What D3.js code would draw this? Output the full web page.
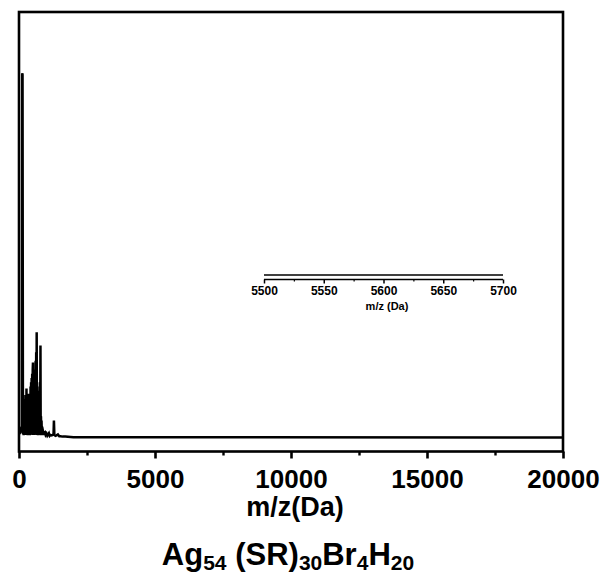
<!DOCTYPE html>
<html>
<head>
<meta charset="utf-8">
<script src="https://cdn.jsdelivr.net/npm/d3@7"></script>
<style>
  html, body { margin: 0; padding: 0; background: #fff; }
  svg { display: block; font-family: "Liberation Sans", Arial, sans-serif; font-weight: bold; }
</style>
</head>
<body>
<svg id="chart" width="608" height="576"></svg>
<script>
// Mass spectrum: m/z (Da) and relative intensity
const mzValues = [0, 50, 90, 105, 118, 130, 145, 150, 160, 170, 180, 190, 200, 210, 220, 230, 240, 250, 260, 270,
  275, 280, 290, 300, 310, 320, 330, 340, 350, 360, 367, 375, 385, 395, 405, 415, 425, 435, 445, 455,
  465, 475, 485, 495, 505, 514, 522, 532, 542, 552, 562, 572, 582, 592, 602, 612, 622, 632, 642, 650,
  658, 668, 678, 688, 698, 708, 718, 728, 738, 748, 758, 768, 778, 789, 798, 808, 818, 828, 840, 850,
  880, 900, 920, 954, 980, 1010, 1040, 1070, 1100, 1130, 1160, 1200, 1240, 1270, 1284, 1300, 1340, 1380, 1431, 1480,
  1530, 1600, 1700, 1800, 1900, 2000, 20000];
const intensities = [0.8, 1.2, 2.5, 2, 85.6, 85.3, 1, 0.8, 6, 0.5, 7, 0.8, 8, 0.6, 9, 1, 10, 0.7, 9, 0.9,
  11.5, 0.6, 10, 0.8, 9, 0.5, 8, 1, 9, 0.6, 10.3, 0.8, 9, 0.5, 10, 1.2, 12, 0.7, 13, 0.9,
  14, 1, 15, 0.6, 16, 17.6, 0.8, 14, 1.1, 13, 0.6, 14, 1, 16, 0.7, 18, 1.2, 20, 0.8, 24.7,
  0.6, 12, 0.9, 10, 0.5, 11, 1, 9, 0.6, 10, 0.8, 13, 0.7, 21.6, 0.5, 5, 0.6, 4, 0.5, 2.5,
  1.5, 0.6, 1, 1.2, 0.6, 0.9, 0.4, 0.7, 1, 0.4, 0.6, 0.5, 0.6, 0.8, 4, 0.6, 0.4, 0.5, 0.7, 0.3,
  0.3, 0.2, 0.2, 0.15, 0.1, 0.05, 0];

const mainTicks = [0, 5000, 10000, 15000, 20000];
const mainMinorTicks = [2500, 7500, 12500, 17500];

// Zoomed window around 5500–5700 Da
const insetMz = [5500, 5700];
const insetIntensity = [0, 0];
const insetTicks = [5500, 5550, 5600, 5650, 5700];
const insetMinorTicks = [5525, 5575, 5625, 5675];

const xTitle = "m/z(Da)";
const insetTitle = "m/z (Da)";

const svg = d3.select("#chart");
const plotLeft = 19, plotRight = 563, plotTop = 12, plotBottom = 451.5;

const x = d3.scaleLinear().domain([0, 20000]).range([plotLeft, plotRight]);
const y = d3.scaleLinear().domain([-3.3, 100]).range([plotBottom, plotTop]);

const spectrum = mzValues.map((m, i) => [m, intensities[i]]);

// spectrum trace
svg.append("path")
  .datum(spectrum)
  .attr("fill", "none")
  .attr("stroke", "#000")
  .attr("stroke-width", 2.5)
  .attr("stroke-linejoin", "miter")
  .attr("d", d3.line().x(d => x(d[0])).y(d => y(d[1])));

// frame
svg.append("rect")
  .attr("x", plotLeft).attr("y", plotTop)
  .attr("width", plotRight - plotLeft).attr("height", plotBottom - plotTop)
  .attr("fill", "none").attr("stroke", "#000").attr("stroke-width", 2.6);

// bottom axis
const xAxis = d3.axisBottom(x).tickValues(mainTicks).tickSize(7).tickPadding(11).tickFormat(d3.format("d"));
const gx = svg.append("g").attr("transform", `translate(0,${plotBottom})`).call(xAxis);
gx.select(".domain").remove();
gx.selectAll(".tick line").attr("stroke", "#000").attr("stroke-width", 2.6);
gx.selectAll(".tick text").attr("fill", "#000").attr("font-size", 26).attr("font-weight", "bold")
  .attr("font-family", "Liberation Sans, Arial, sans-serif");
const gxm = svg.append("g").attr("transform", `translate(0,${plotBottom})`)
  .call(d3.axisBottom(x).tickValues(mainMinorTicks).tickSize(4).tickFormat(""));
gxm.select(".domain").remove();
gxm.selectAll(".tick line").attr("stroke", "#000").attr("stroke-width", 2.4);

svg.append("text")
  .attr("x", (plotLeft + plotRight) / 2 + 4).attr("y", 516)
  .attr("text-anchor", "middle").attr("font-size", 27)
  .text(xTitle);

// compound label with subscripts
const parts = [["Ag", false], ["54", true], [" (SR)", false], ["30", true], ["Br", false], ["4", true], ["H", false], ["20", true]];
const title = svg.append("text")
  .attr("x", 288).attr("y", 565)
  .attr("text-anchor", "middle").attr("font-size", 31);
parts.forEach(([t, sub], i) => {
  const prevSub = i > 0 && parts[i - 1][1];
  const ts = title.append("tspan").text(t).attr("dy", sub ? 5 : (prevSub ? -5 : 0));
  if (sub) ts.attr("font-size", 21);
});

// inset axis
const xi = d3.scaleLinear().domain([5500, 5700]).range([264, 503]);
const yi = d3.scaleLinear().domain([-1, 1]).range([284, 266]);
svg.append("path")
  .datum(insetMz.map((m, i) => [m, insetIntensity[i]]))
  .attr("fill", "none").attr("stroke", "#000").attr("stroke-width", 1.5)
  .attr("d", d3.line().x(d => xi(d[0])).y(d => yi(d[1])));

const insetAxisY = 279.5;
const gi = svg.append("g").attr("transform", `translate(0,${insetAxisY})`)
  .call(d3.axisBottom(xi).tickValues(insetTicks).tickSize(4).tickPadding(3).tickFormat(d3.format("d")));
gi.select(".domain").attr("stroke", "#000").attr("stroke-width", 1.5).attr("d", "M264,0H503");
gi.selectAll(".tick line").attr("stroke", "#000").attr("stroke-width", 1.5);
gi.selectAll(".tick text").attr("fill", "#000").attr("font-size", 12).attr("font-weight", "bold")
  .attr("font-family", "Liberation Sans, Arial, sans-serif");
const gim = svg.append("g").attr("transform", `translate(0,${insetAxisY})`)
  .call(d3.axisBottom(xi).tickValues(insetMinorTicks).tickSize(2).tickFormat(""));
gim.select(".domain").remove();
gim.selectAll(".tick line").attr("stroke", "#000").attr("stroke-width", 1.2);

svg.append("text")
  .attr("x", 387).attr("y", 310)
  .attr("text-anchor", "middle").attr("font-size", 11)
  .text(insetTitle);
</script>
</body>
</html>
